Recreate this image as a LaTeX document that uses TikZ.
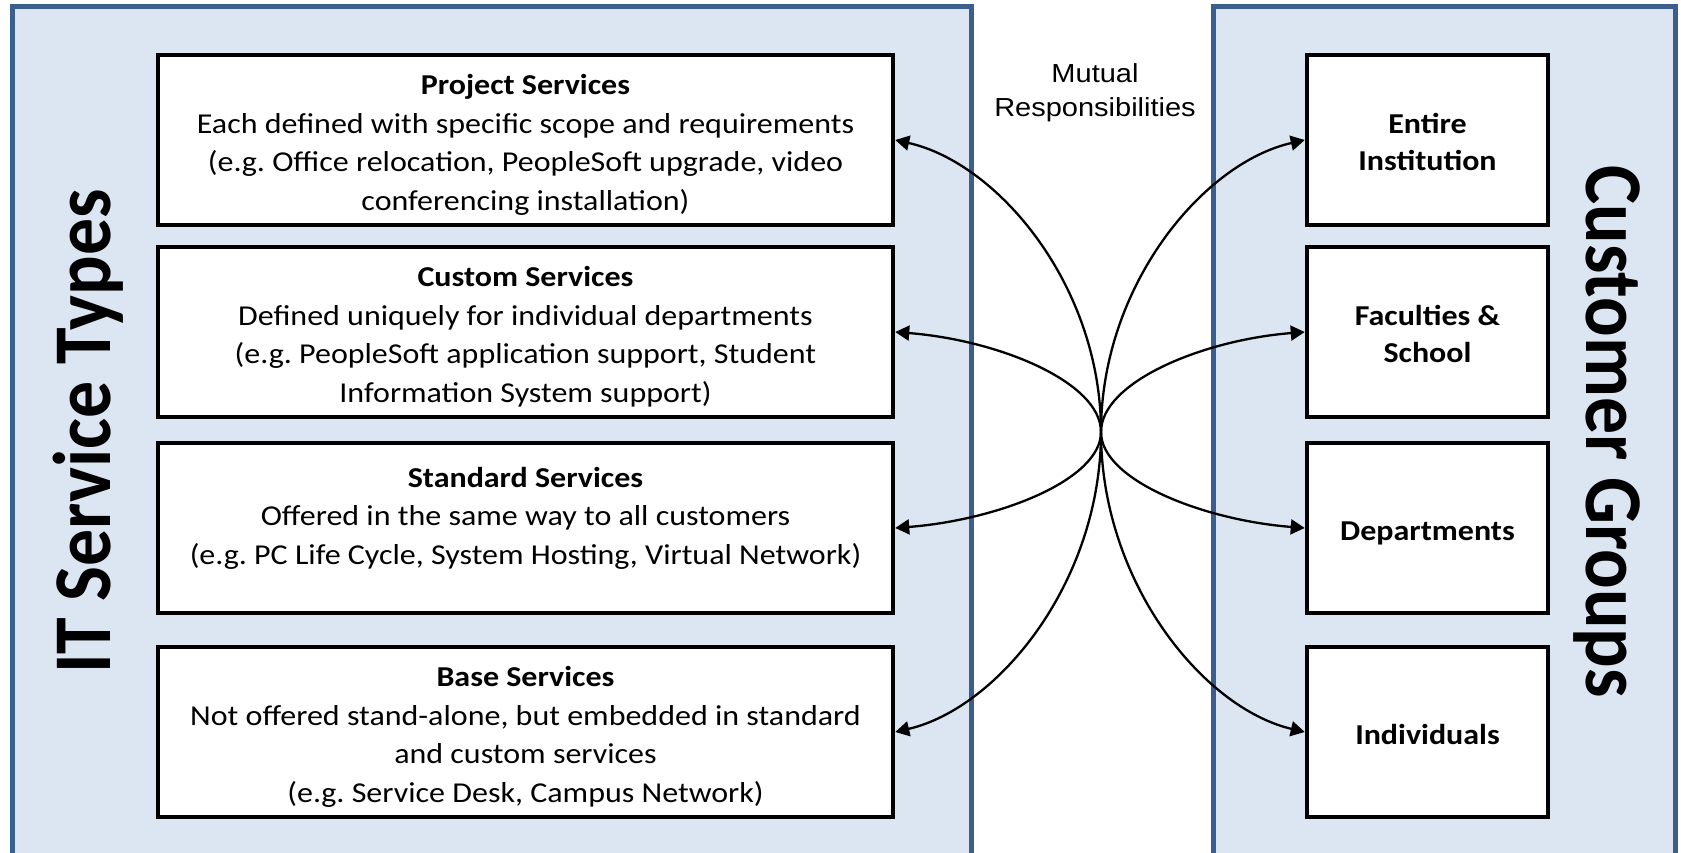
\documentclass[tikz,border=0pt]{standalone}
\usepackage{fontspec}
\setmainfont{Carlito}
\newfontfamily\arialf{Liberation Sans}
\usetikzlibrary{arrows.meta}
\definecolor{panelfill}{HTML}{DCE6F2}
\definecolor{paneledge}{HTML}{3A5F8D}
\newsavebox\sqzbox
\newcommand{\sqz}[1]{\sbox\sqzbox{\scalebox{1}[0.9]{\begin{tabular}{@{}c@{}}#1\end{tabular}}}\raisebox{0pt}[\dimexpr\ht\sqzbox+10pt\relax][\dp\sqzbox]{\usebox\sqzbox}}
\frenchspacing
\begin{document}
\begin{tikzpicture}[x=1pt,y=-1pt,
  panel/.style={fill=panelfill,draw=paneledge,line width=5pt},
  lbox/.style={draw,fill=white,line width=4.5pt,minimum width=735pt,minimum height=170pt,inner sep=0pt,font=\fontsize{32}{42.8}\selectfont},
  ltext/.style={inner sep=0pt,font=\fontsize{32}{42.8}\selectfont},
  rbox/.style={draw,fill=white,line width=4.5pt,minimum width=241pt,minimum height=170pt,inner sep=0pt,font=\fontsize{32}{41}\selectfont\bfseries},
  link/.style={line width=2.3pt,-{Triangle[length=14pt,width=15pt]}},
  bigtitle/.style={font=\fontsize{82}{90}\selectfont\bfseries,anchor=base,inner sep=0pt}
]
\useasboundingbox (0,0) rectangle (1681,853);
\draw[panel] (12,6.5) rectangle (971,856);
\draw[panel] (1213,6.5) rectangle (1675,856);

\node[bigtitle,rotate=90] (tl) at (110,431.5) {\scalebox{0.9}[1]{IT Service Types}};
\node[bigtitle,rotate=-90] (tr) at (1586,431.5) {\scalebox{0.9}[1]{Customer Groups}};

\node[lbox] (l1) at (525.5,140) {\sqz{\textbf{Project Services}\\Each defined with specific scope and requirements\\(e.g. Office relocation, PeopleSoft upgrade, video\\conferencing installation)}};
\node[lbox] (l2) at (525.5,332) {\sqz{\textbf{Custom Services}\\Defined uniquely for individual departments\\(e.g. PeopleSoft application support, Student\\Information System support)}};
\node[lbox] (l3) at (525.5,528) {};
\node[ltext] (l3t) at (525.5,513) {\sqz{\textbf{Standard Services}\\Offered in the same way to all customers\\(e.g. PC Life Cycle, System Hosting, Virtual Network)}};
\node[lbox] (l4) at (525.5,732) {\sqz{\textbf{Base Services}\\Not offered stand-alone, but embedded in standard\\and custom services\\(e.g. Service Desk, Campus Network)}};

\node[rbox] (r1) at (1427.5,140) {\sqz{Entire\\Institution}};
\node[rbox] (r2) at (1427.5,332) {\sqz{Faculties \&\\School}};
\node[rbox] (r3) at (1427.5,528) {\sqz{Departments}};
\node[rbox] (r4) at (1427.5,732) {\sqz{Individuals}};

\node[font=\arialf\fontsize{29}{37.8}\selectfont,inner sep=0pt] (mr) at (1095,88) {\sqz{Mutual\\Responsibilities}};

\coordinate (c) at (1101,432);
\draw[link] (c) .. controls +(0,-146) and +(103,23) .. (l1.east);
\draw[link] (c) .. controls +(0,-50) and +(103,8) .. (l2.east);
\draw[link] (c) .. controls +(0,48) and +(103,-8) .. (l3.east);
\draw[link] (c) .. controls +(0,150) and +(103,-24) .. (l4.east);
\draw[link] (c) .. controls +(0,-146) and +(-102,23) .. (r1.west);
\draw[link] (c) .. controls +(0,-50) and +(-102,8) .. (r2.west);
\draw[link] (c) .. controls +(0,48) and +(-102,-8) .. (r3.west);
\draw[link] (c) .. controls +(0,150) and +(-102,-24) .. (r4.west);
\end{tikzpicture}
\end{document}
